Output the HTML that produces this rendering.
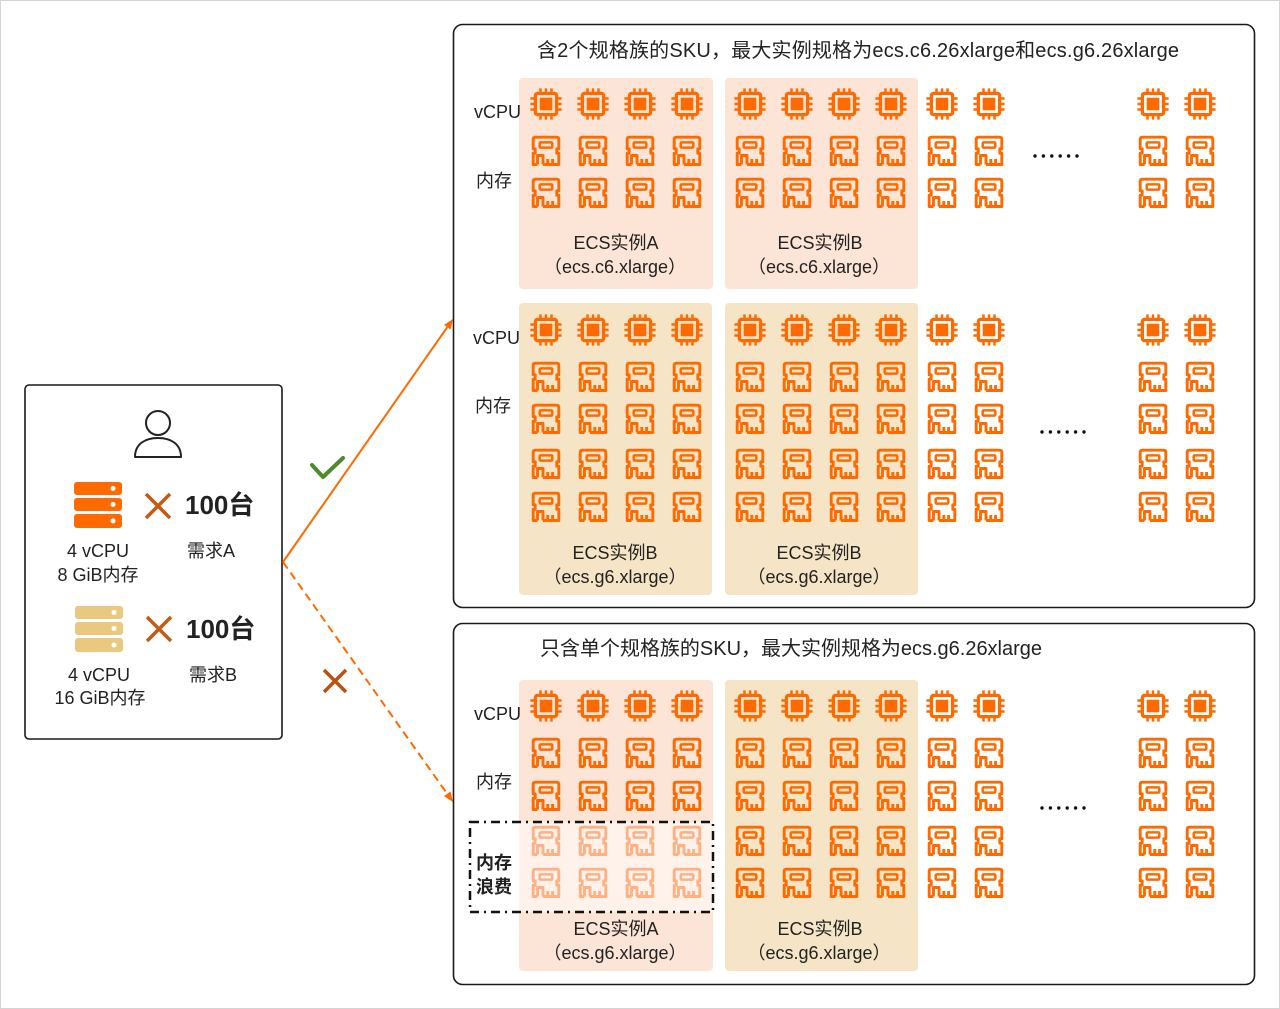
<!DOCTYPE html>
<html><head><meta charset="utf-8"><style>
html,body{margin:0;padding:0;background:#fff;}
svg{display:block;}
text{font-family:"Liberation Sans","Noto Sans CJK SC",sans-serif;fill:#222;}
</style></head><body>
<svg width="1280" height="1009" viewBox="0 0 1280 1009" xmlns="http://www.w3.org/2000/svg">
<defs>
  <g id="cpu" fill="none" stroke="currentColor">
    <rect x="-10.6" y="-10.6" width="21.2" height="21.2" rx="2" stroke-width="3.3"/>
    <rect x="-6.3" y="-6.3" width="12.6" height="12.6" fill="currentColor" stroke="none"/>
    <path d="M-5.5 -12V-15.6M0 -12V-15.6M5.5 -12V-15.6M-5.5 12V15.6M0 12V15.6M5.5 12V15.6M-12 -5.5H-15.6M-12 0H-15.6M-12 5.5H-15.6M12 -5.5H15.6M12 0H15.6M12 5.5H15.6" stroke-width="2.5"/>
  </g>
  <g id="mem" fill="none" stroke="currentColor" stroke-width="2.9" stroke-linejoin="round">
    <path d="M-8.5 13.5H-12.8V2.2H-10.8V-2.2H-12.8V-11.6Q-12.8 -13.8 -10.6 -13.8H10.6Q12.8 -13.8 12.8 -11.6V-2.2H10.8V2.2H12.8V13.5H-3"/>
    <path d="M-8.5 13.5V4.5H-3V13.5M1.8 13.5V8M6.6 13.5V8"/>
    <rect x="-6.3" y="-8.6" width="12.6" height="5.2" rx="1" stroke-width="2.5"/>
  </g>
  <g id="cpurow">
    <use href="#cpu" x="546" y="0"/><use href="#cpu" x="593" y="0"/><use href="#cpu" x="640" y="0"/><use href="#cpu" x="687" y="0"/>
    <use href="#cpu" x="750" y="0"/><use href="#cpu" x="797" y="0"/><use href="#cpu" x="844" y="0"/><use href="#cpu" x="891" y="0"/>
    <use href="#cpu" x="942" y="0"/><use href="#cpu" x="989" y="0"/><use href="#cpu" x="1153" y="0"/><use href="#cpu" x="1200" y="0"/>
  </g>
  <g id="memA">
    <use href="#mem" x="546" y="0"/><use href="#mem" x="593" y="0"/><use href="#mem" x="640" y="0"/><use href="#mem" x="687" y="0"/>
  </g>
  <g id="memR">
    <use href="#mem" x="750" y="0"/><use href="#mem" x="797" y="0"/><use href="#mem" x="844" y="0"/><use href="#mem" x="891" y="0"/>
    <use href="#mem" x="942" y="0"/><use href="#mem" x="989" y="0"/><use href="#mem" x="1153" y="0"/><use href="#mem" x="1200" y="0"/>
  </g>
  <g id="memrow"><use href="#memA"/><use href="#memR"/></g>
  <g id="dots" fill="#111">
    <circle cx="0" cy="0" r="1.7"/><circle cx="8.4" cy="0" r="1.7"/><circle cx="16.8" cy="0" r="1.7"/><circle cx="25.2" cy="0" r="1.7"/><circle cx="33.6" cy="0" r="1.7"/><circle cx="42" cy="0" r="1.7"/>
  </g>
</defs>

<rect x="0.5" y="0.5" width="1279" height="1008" fill="#fff" stroke="#d4d4d4"/>

<!-- Left panel -->
<rect x="25" y="385" width="257" height="354" rx="4" fill="#fff" stroke="#1a1a1a" stroke-width="1.6"/>
<circle cx="158" cy="423" r="12" fill="none" stroke="#222" stroke-width="2"/>
<path d="M135 457C135 444 145 438 158 438C171 438 181 444 181 457Z" fill="none" stroke="#222" stroke-width="2" stroke-linejoin="round"/>

<g fill="#FF6A00">
  <rect x="74" y="482" width="48" height="13" rx="3"/>
  <rect x="74" y="498" width="48" height="13" rx="3"/>
  <rect x="74" y="514" width="48" height="14" rx="3"/>
</g>
<g fill="#fff"><circle cx="113" cy="488.5" r="2.5"/><circle cx="113" cy="504.5" r="2.5"/><circle cx="113" cy="521" r="2.5"/></g>
<path d="M146 494L170 518M170 494L146 518" stroke="#C55A11" stroke-width="3.5"/>
<text x="185" y="514" font-size="26" font-weight="bold" fill="#111">100台</text>
<text x="98" y="557" font-size="18" text-anchor="middle">4 vCPU</text>
<text x="98" y="581" font-size="18" text-anchor="middle">8 GiB内存</text>
<text x="211" y="557" font-size="18" text-anchor="middle">需求A</text>

<g fill="#E9C97F">
  <rect x="75" y="606" width="48" height="13" rx="3"/>
  <rect x="75" y="622" width="48" height="13" rx="3"/>
  <rect x="75" y="638" width="48" height="14" rx="3"/>
</g>
<g fill="#fff"><circle cx="114" cy="612.5" r="2.5"/><circle cx="114" cy="628.5" r="2.5"/><circle cx="114" cy="645" r="2.5"/></g>
<path d="M147 617L171 641M171 617L147 641" stroke="#C55A11" stroke-width="3.5"/>
<text x="186" y="638" font-size="26" font-weight="bold" fill="#111">100台</text>
<text x="99" y="681" font-size="18" text-anchor="middle">4 vCPU</text>
<text x="100" y="704" font-size="18" text-anchor="middle">16 GiB内存</text>
<text x="213" y="681" font-size="18" text-anchor="middle">需求B</text>

<!-- connectors -->
<line x1="283" y1="562" x2="447.3" y2="327.2" stroke="#FF6A00" stroke-width="2"/>
<polygon points="453,319 450.6,329.5 444,324.9" fill="#FF6A00"/>
<line x1="283" y1="562" x2="447.2" y2="793.8" stroke="#FF6A00" stroke-width="2" stroke-dasharray="8 5"/>
<polygon points="453,802 450.5,791.5 443.9,796.1" fill="#FF6A00"/>
<path d="M312 465L323 477L343 458" fill="none" stroke="#4C8A2B" stroke-width="4" stroke-linecap="round" stroke-linejoin="round"/>
<path d="M324 670L346 692M346 670L324 692" stroke="#B8520E" stroke-width="3.5"/>

<!-- Top panel -->
<rect x="453.5" y="24.5" width="801" height="583" rx="9" fill="#fff" stroke="#1a1a1a" stroke-width="1.6"/>
<text x="537" y="57" font-size="20" textLength="642">含2个规格族的SKU，最大实例规格为ecs.c6.26xlarge和ecs.g6.26xlarge</text>
<rect x="519" y="78" width="194" height="211" rx="4" fill="#FCE4D6"/>
<rect x="725" y="78" width="193" height="211" rx="4" fill="#FCE4D6"/>
<rect x="519" y="303" width="193" height="292" rx="4" fill="#F5E5C6"/>
<rect x="725" y="303" width="193" height="292" rx="4" fill="#F5E5C6"/>

<g color="#FF6A00">
  <use href="#cpurow" y="104"/>
  <use href="#memrow" y="151"/>
  <use href="#memrow" y="193"/>
  <use href="#cpurow" y="330"/>
  <use href="#memrow" y="377"/>
  <use href="#memrow" y="419"/>
  <use href="#memrow" y="464"/>
  <use href="#memrow" y="507"/>
</g>
<text x="474" y="118" font-size="18">vCPU</text>
<text x="476" y="187" font-size="18">内存</text>
<use href="#dots" x="1035" y="156"/>
<text x="616" y="249" font-size="18" text-anchor="middle">ECS实例A</text>
<text x="615" y="273" font-size="18" text-anchor="middle">（ecs.c6.xlarge）</text>
<text x="820" y="249" font-size="18" text-anchor="middle">ECS实例B</text>
<text x="819" y="273" font-size="18" text-anchor="middle">（ecs.c6.xlarge）</text>

<text x="473" y="344" font-size="18">vCPU</text>
<text x="475" y="412" font-size="18">内存</text>
<use href="#dots" x="1042" y="432"/>
<text x="615" y="559" font-size="18" text-anchor="middle">ECS实例B</text>
<text x="615" y="583" font-size="18" text-anchor="middle">（ecs.g6.xlarge）</text>
<text x="819" y="559" font-size="18" text-anchor="middle">ECS实例B</text>
<text x="819" y="583" font-size="18" text-anchor="middle">（ecs.g6.xlarge）</text>

<!-- Bottom panel -->
<rect x="453.5" y="623.5" width="801" height="361" rx="9" fill="#fff" stroke="#1a1a1a" stroke-width="1.6"/>
<text x="540" y="655" font-size="20" textLength="502">只含单个规格族的SKU，最大实例规格为ecs.g6.26xlarge</text>
<rect x="519" y="680" width="194" height="291" rx="4" fill="#FCE4D6"/>
<rect x="725" y="680" width="193" height="291" rx="4" fill="#F5E5C6"/>
<rect x="519" y="822" width="194" height="90" fill="#fff" opacity="0.5"/>
<g color="#FF6A00">
  <use href="#cpurow" y="706"/>
  <use href="#memrow" y="753"/>
  <use href="#memrow" y="796"/>
  <use href="#memR" y="841"/>
  <use href="#memR" y="883"/>
</g>
<g color="#FFB183">
  <use href="#memA" y="841"/>
  <use href="#memA" y="883"/>
</g>
<rect x="470" y="822" width="243" height="90" fill="none" stroke="#111" stroke-width="2.5" stroke-dasharray="9 5 2 5"/>
<text x="474" y="720" font-size="18">vCPU</text>
<text x="476" y="788" font-size="18">内存</text>
<text x="476" y="869" font-size="18" font-weight="bold" fill="#111">内存</text>
<text x="476" y="893" font-size="18" font-weight="bold" fill="#111">浪费</text>
<use href="#dots" x="1042" y="808"/>
<text x="616" y="935" font-size="18" text-anchor="middle">ECS实例A</text>
<text x="615" y="959" font-size="18" text-anchor="middle">（ecs.g6.xlarge）</text>
<text x="820" y="935" font-size="18" text-anchor="middle">ECS实例B</text>
<text x="819" y="959" font-size="18" text-anchor="middle">（ecs.g6.xlarge）</text>
</svg>
</body></html>
